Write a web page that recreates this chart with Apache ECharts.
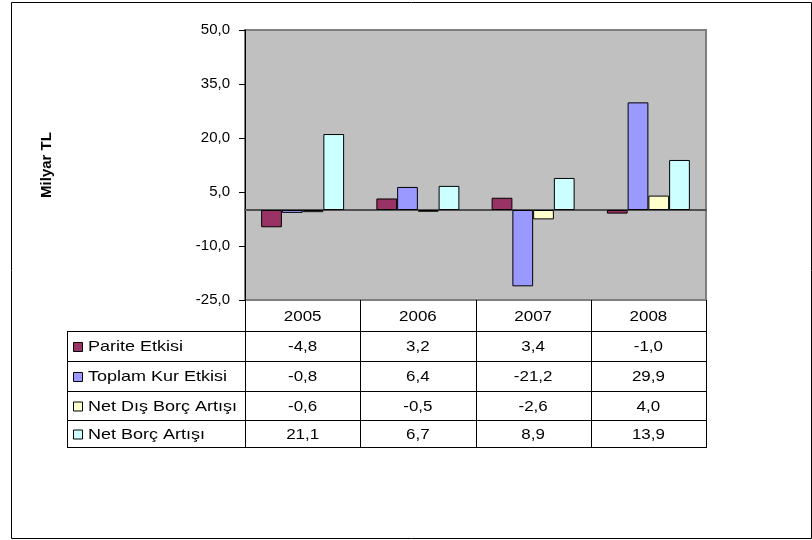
<!DOCTYPE html>
<html>
<head>
<meta charset="utf-8">
<script src="https://cdn.jsdelivr.net/npm/echarts@6/dist/echarts.min.js"></script>
<style>
  html, body { margin: 0; padding: 0; background: #ffffff; }
  #chart { width: 812px; height: 540px; }
</style>
</head>
<body>
<div id="chart"></div>
<script>
// Years shown on the category axis and as the table header
const years = ['2005', '2006', '2007', '2008'];

// Series (billion TL)
const seriesNames = ['Parite Etkisi', 'Toplam Kur Etkisi', 'Net Dış Borç Artışı', 'Net Borç Artışı'];
const pariteEtkisi = [-4.8, 3.2, 3.4, -1.0];
const toplamKurEtkisi = [-0.8, 6.4, -21.2, 29.9];
const netDisBorcArtisi = [-0.6, -0.5, -2.6, 4.0];
const netBorcArtisi = [21.1, 6.7, 8.9, 13.9];

// Value axis ticks
const yMin = -25, yMax = 50, yStep = 15;
const yAxisTitle = 'Milyar TL';

const seriesValues = [pariteEtkisi, toplamKurEtkisi, netDisBorcArtisi, netBorcArtisi];
const seriesColors = ['#993366', '#9999FF', '#FFFFCC', '#CCFFFF'];

const fmt = v => v.toFixed(1).replace('.', ',');

// Plot area geometry
const G = { left: 245, top: 30, width: 461, height: 270 };
const tableLeft = 67;
const headerBottom = 331;
const rowBottoms = [361, 391, 420, 447];
const font = '"Liberation Sans", Arial, sans-serif';

const chart = echarts.init(document.getElementById('chart'));

function cellText(text, x, y, align, sx) {
  return { type: 'text', x, y, scaleX: sx,
    style: { text, font: '15px ' + font, fill: '#000', textAlign: align, textVerticalAlign: 'middle' } };
}

function buildTable() {
  const els = [];
  const right = G.left + G.width;
  const bottom = G.top + G.height;
  const colW = G.width / years.length;
  const lineStyle = { stroke: '#000', lineWidth: 1 };
  // header cells
  years.forEach((y, i) => {
    els.push(cellText(y, G.left + colW * (i + 0.5), (bottom + headerBottom) / 2 + 1, 'center', 1.13));
  });
  // vertical column separators
  for (let i = 0; i <= years.length; i++) {
    const x = Math.round(G.left + colW * i) + 0.5;
    els.push({ type: 'line', shape: { x1: x, y1: bottom, x2: x, y2: rowBottoms[3] }, style: lineStyle });
  }
  // left edge of the legend column
  els.push({ type: 'line', shape: { x1: tableLeft + 0.5, y1: headerBottom, x2: tableLeft + 0.5, y2: rowBottoms[3] }, style: lineStyle });
  // horizontal row lines
  [headerBottom].concat(rowBottoms).forEach(yb => {
    els.push({ type: 'line', shape: { x1: tableLeft, y1: yb + 0.5, x2: right + 1, y2: yb + 0.5 }, style: lineStyle });
  });
  // body rows
  seriesNames.forEach((name, r) => {
    const top = r === 0 ? headerBottom : rowBottoms[r - 1];
    const cy = (top + rowBottoms[r]) / 2 + 1;
    els.push({ type: 'rect', shape: { x: 73.5, y: cy - 4.5, width: 9, height: 9 },
      style: { fill: seriesColors[r], stroke: '#000', lineWidth: 1 } });
    els.push(cellText(name, 88, cy, 'left', 1.2));
    seriesValues[r].forEach((v, i) => {
      els.push(cellText(fmt(v), G.left + colW * (i + 0.5), cy, 'center', 1.13));
    });
  });
  // outer frame
  els.push({ type: 'rect', shape: { x: 11.5, y: 2.5, width: 800, height: 536 },
    style: { fill: 'none', stroke: '#000', lineWidth: 1 } });
  return els;
}

chart.setOption({
  animation: false,
  backgroundColor: '#ffffff',
  grid: { left: G.left, top: G.top, width: G.width, height: G.height,
    show: true, backgroundColor: '#C0C0C0', borderColor: '#7f7f7f', borderWidth: 2 },
  xAxis: {
    type: 'category',
    data: years,
    axisLine: { show: true, onZero: true, lineStyle: { color: '#505050', width: 2 } },
    axisTick: { show: false },
    axisLabel: { show: false },
    splitLine: { show: false }
  },
  yAxis: {
    type: 'value',
    min: yMin, max: yMax, interval: yStep,
    name: yAxisTitle,
    nameLocation: 'middle',
    nameGap: 191,
    nameRotate: 90,
    nameTextStyle: { fontFamily: font, fontSize: 15, fontWeight: 'bold', color: '#000' },
    axisLine: { show: true, lineStyle: { color: '#000', width: 1 } },
    axisTick: { show: true, length: 6, lineStyle: { color: '#000' } },
    axisLabel: { fontFamily: font, fontSize: 15, color: '#000', margin: 15, formatter: v => fmt(v) },
    splitLine: { show: false }
  },
  series: seriesNames.map((name, i) => ({
    name,
    type: 'bar',
    data: seriesValues[i],
    barGap: '0%',
    barCategoryGap: '28%',
    itemStyle: { color: seriesColors[i], borderColor: '#000', borderWidth: 1 }
  })),
  graphic: buildTable()
});
</script>
</body>
</html>
